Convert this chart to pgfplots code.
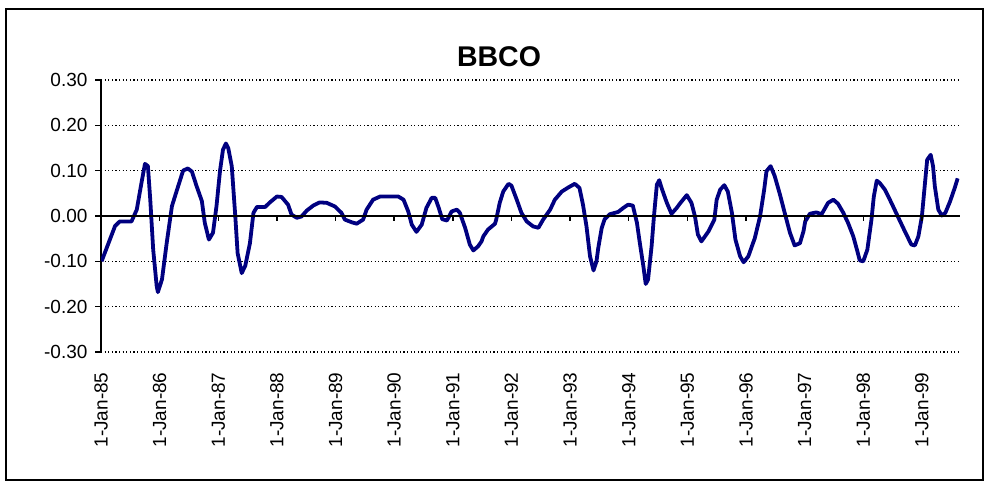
\documentclass[border=0pt]{standalone}
\usepackage{pgfplots}
\pgfplotsset{compat=1.18}
\usepackage{pgfplotstable}
\usepackage{fontspec}
\setmainfont{Liberation Sans}

\definecolor{bbcoline}{RGB}{0,0,128}

% t = years since 1-Jan-85, v = BBCO
\pgfplotstableread{
t v
0.01 -0.100
0.24 -0.022
0.32 -0.012
0.52 -0.012
0.61 0.014
0.69 0.073
0.75 0.115
0.80 0.110
0.84 0.036
0.89 -0.074
0.95 -0.155
0.97 -0.168
1.04 -0.140
1.12 -0.060
1.21 0.022
1.29 0.055
1.40 0.100
1.48 0.105
1.55 0.098
1.63 0.066
1.72 0.033
1.77 -0.015
1.84 -0.052
1.91 -0.037
1.97 0.022
2.03 0.100
2.08 0.146
2.13 0.160
2.17 0.150
2.23 0.110
2.29 0.000
2.33 -0.082
2.40 -0.126
2.46 -0.110
2.54 -0.060
2.60 0.007
2.66 0.020
2.80 0.020
2.88 0.030
3.00 0.043
3.08 0.042
3.19 0.025
3.25 0.003
3.34 -0.004
3.42 -0.001
3.51 0.012
3.62 0.023
3.73 0.030
3.85 0.029
3.99 0.021
4.10 0.007
4.16 -0.008
4.28 -0.014
4.36 -0.017
4.47 -0.008
4.53 0.014
4.64 0.036
4.76 0.043
4.90 0.043
5.07 0.043
5.16 0.036
5.24 0.010
5.30 -0.019
5.38 -0.035
5.47 -0.019
5.55 0.018
5.64 0.040
5.70 0.040
5.76 0.018
5.82 -0.007
5.90 -0.010
5.98 0.010
6.07 0.014
6.12 0.007
6.21 -0.026
6.29 -0.063
6.35 -0.076
6.43 -0.067
6.49 -0.056
6.52 -0.045
6.60 -0.030
6.72 -0.017
6.74 -0.008
6.80 0.029
6.86 0.054
6.95 0.071
7.00 0.067
7.09 0.036
7.17 0.007
7.26 -0.012
7.37 -0.023
7.46 -0.026
7.54 -0.008
7.66 0.014
7.74 0.036
7.86 0.054
7.97 0.063
8.08 0.071
8.16 0.062
8.22 0.025
8.28 -0.023
8.34 -0.089
8.40 -0.120
8.45 -0.100
8.48 -0.071
8.54 -0.026
8.59 -0.007
8.68 0.004
8.82 0.009
8.91 0.018
8.99 0.025
9.07 0.023
9.14 -0.015
9.19 -0.060
9.25 -0.111
9.29 -0.150
9.33 -0.140
9.39 -0.067
9.43 -0.001
9.48 0.069
9.52 0.079
9.56 0.062
9.65 0.029
9.73 0.005
9.82 0.018
9.87 0.027
9.99 0.046
10.07 0.029
10.13 -0.001
10.18 -0.041
10.24 -0.056
10.36 -0.034
10.46 -0.008
10.50 0.036
10.56 0.058
10.63 0.068
10.69 0.054
10.76 0.007
10.82 -0.052
10.90 -0.089
10.96 -0.102
11.04 -0.089
11.10 -0.067
11.15 -0.049
11.24 -0.001
11.31 0.058
11.35 0.099
11.42 0.110
11.49 0.088
11.58 0.047
11.66 0.007
11.75 -0.037
11.83 -0.065
11.92 -0.060
11.98 -0.034
12.01 -0.012
12.09 0.005
12.20 0.008
12.29 0.004
12.40 0.029
12.49 0.036
12.57 0.027
12.66 0.007
12.74 -0.015
12.83 -0.045
12.90 -0.078
12.94 -0.098
13.00 -0.100
13.07 -0.074
13.14 -0.008
13.18 0.043
13.23 0.078
13.28 0.073
13.37 0.058
13.48 0.029
13.60 -0.004
13.71 -0.034
13.82 -0.063
13.88 -0.065
13.94 -0.045
14.00 -0.001
14.05 0.069
14.09 0.124
14.15 0.135
14.19 0.110
14.22 0.066
14.28 0.014
14.34 0.001
14.40 0.007
14.48 0.032
14.56 0.062
14.61 0.083
}\bbco

\begin{document}
\begin{tikzpicture}
\useasboundingbox (0,0) rectangle (989bp,485bp);
\draw[line width=1.5bp] (6bp,5bp) rectangle (983bp,476bp);
\node[font=\fontsize{28.5bp}{31bp}\selectfont\bfseries] at (499bp,428bp) {BBCO};

\begin{axis}[
    at={(101bp,133bp)}, anchor=south west,
    width=859bp, height=272bp, scale only axis,
    xmin=0, xmax=14.65, ymin=-0.3, ymax=0.3,
    axis y line*=left, axis x line*=bottom,
    x axis line style={draw=none},
    y axis line style={-, line width=1.5bp},
    xtick={0,...,14},
    xticklabels={1-Jan-85,1-Jan-86,1-Jan-87,1-Jan-88,1-Jan-89,1-Jan-90,1-Jan-91,1-Jan-92,1-Jan-93,1-Jan-94,1-Jan-95,1-Jan-96,1-Jan-97,1-Jan-98,1-Jan-99},
    xtick style={draw=none},
    ytick={-0.3,-0.2,-0.1,0,0.1,0.2,0.3},
    ytick style={black, line width=1.5bp},
    tick align=outside, major tick length=6bp,
    ymajorgrids,
    major grid style={black, line width=1.2bp, dash pattern=on 1.2bp off 2.4bp},
    tick label style={font=\fontsize{19bp}{21bp}\selectfont},
    xticklabel style={rotate=90, anchor=east},
    xticklabel shift=11bp,
    yticklabel shift=4bp,
    yticklabel style={/pgf/number format/.cd, fixed, fixed zerofill, precision=2, assume math mode=true},
]
\addplot[bbcoline, line width=3.8bp, line join=round] table[x=t, y=v] {\bbco};
\end{axis}

% zero line with its downward ticks
\begin{axis}[
    at={(101bp,133bp)}, anchor=south west,
    width=859bp, height=272bp, scale only axis,
    xmin=0, xmax=14.65, ymin=-0.3, ymax=0.3,
    axis x line=middle, axis y line=none,
    x axis line style={-, line width=1.5bp},
    xtick={1,...,14}, xticklabels={}, ytick=\empty,
    xtick style={black, line width=1.5bp},
    xtick align=outside, major tick length=5bp,
]
\end{axis}
\end{tikzpicture}
\end{document}
